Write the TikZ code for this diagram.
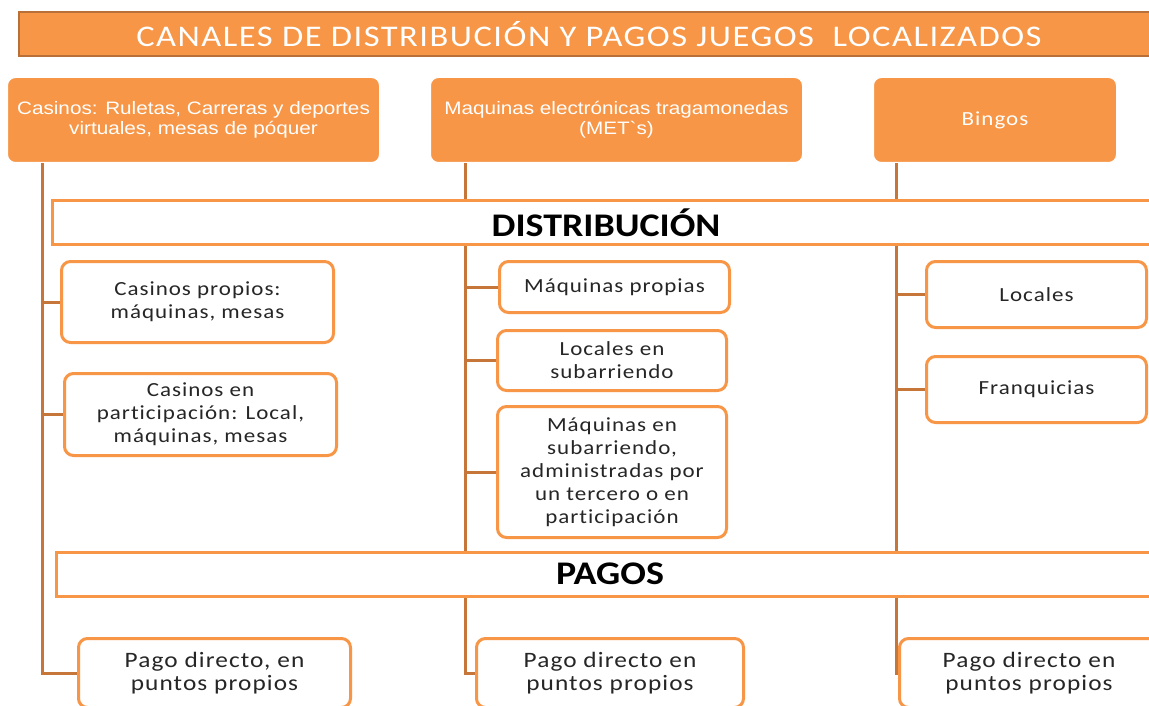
\documentclass[tikz,border=0pt]{standalone}
\usepackage{fontspec}
\setmainfont{Carlito}[FakeStretch=1.15]
\newfontfamily\titlefont{Carlito}[FakeStretch=1.15,LetterSpace=5]
\newfontfamily\boxfont{Carlito}[FakeStretch=1.15,LetterSpace=5,RawFeature={-liga}]
\newfontfamily\headfont{Liberation Sans}[FakeStretch=1.15]
\definecolor{accent}{RGB}{247,150,70}
\definecolor{accentdark}{RGB}{184,112,56}
\definecolor{linkcol}{RGB}{197,118,56}
\usetikzlibrary{positioning,calc,backgrounds}

\begin{document}
\begin{tikzpicture}[
            x=1pt, y=-1pt,
            title/.style={rectangle, draw=accentdark, line width=2pt, fill=accent, text=white, minimum width=1140, minimum height=44, inner sep=0pt, font=\titlefont\fontsize{30}{32}\selectfont},
            head/.style={rectangle, draw=white, line width=1pt, fill=accent, text=white, minimum height=85, inner sep=0pt, align=center, rounded corners=8pt, font=\headfont\fontsize{18}{20}\selectfont},
            bar/.style={rectangle, draw=accent, line width=3pt, fill=white, minimum width=1108, minimum height=44, inner sep=0pt, font=\bfseries\fontsize{33}{36}\selectfont},
            item/.style={rectangle, draw=accent, line width=3pt, fill=white, inner sep=0pt, align=center, rounded corners=9pt, text=black!85, font=\boxfont\fontsize{20}{23}\selectfont},
            pago/.style={item, minimum height=69, font=\boxfont\fontsize{22}{23}\selectfont},
            link/.style={draw=linkcol, line width=3pt}
        ]
            \useasboundingbox (0,0) rectangle (1149,706);
            \clip (0,0) rectangle (1149,706);

            % titulo
            \node[title] (titulo) at (589,34) {CANALES DE DISTRIBUCIÓN Y PAGOS JUEGOS\ \ LOCALIZADOS};

            % canales
            \node[head, minimum width=372] (casinos) at (193.5,120) {Casinos: Ruletas, Carreras y deportes\\virtuales, mesas de póquer};
            \node[head, minimum width=372] (met) at (616.5,120) {Maquinas electrónicas tragamonedas\\(MET`s)};
            \node[head, minimum width=243, font=\boxfont\fontsize{20}{23}\selectfont] (bingos) at (995,120) {Bingos};

            % franjas
            \node[bar] (distrib) at (606,222.5) {DISTRIBUCIÓN};
            \node[bar] (pagos) at (610,574) {PAGOS};

            % distribucion
            \node[item, minimum width=272, minimum height=81] (propios) at (197.5,302) {Casinos propios:\\máquinas, mesas};
            \node[item, minimum width=272, minimum height=82] (particip) at (200.5,414.5) {Casinos en\\participación: Local,\\máquinas, mesas};
            \node[item, minimum width=230, minimum height=51] (maqprop) at (614.5,287) {Máquinas propias};
            \node[item, minimum width=229, minimum height=60] (locsub) at (612,360.5) {Locales en\\subarriendo};
            \node[item, minimum width=229, minimum height=131] (maqsub) at (612,472) {Máquinas en\\subarriendo,\\administradas por\\un tercero o en\\participación};
            \node[item, minimum width=220, minimum height=66] (locales) at (1036.5,294.5) {Locales};
            \node[item, minimum width=220, minimum height=66] (franq) at (1036.5,389.5) {Franquicias};

            % pagos
            \node[pago, minimum width=272] (pagoA) at (214.5,673) {Pago directo, en\\puntos propios};
            \node[pago, minimum width=267] (pagoB) at (610,673) {Pago directo en\\puntos propios};
            \node[pago, minimum width=259] (pagoC) at (1029,673) {Pago directo en\\puntos propios};

            \begin{scope}[on background layer]
                \fill[white] (0,0) rectangle (1149,706);
                \coordinate (tA) at (42,163);
                \coordinate (tB) at (465,163);
                \coordinate (tC) at (896,163);
                \draw[link] (tA) |- (pagoA.west);
                \draw[link] (tB) |- (pagoB.west);
                \draw[link] (tC) |- (pagoC.west);
                \draw[link] (tA |- propios.west) -- (propios.west);
                \draw[link] (tA |- particip.west) -- (particip.west);
                \draw[link] (tB |- maqprop.west) -- (maqprop.west);
                \draw[link] (tB |- locsub.west) -- (locsub.west);
                \draw[link] (tB |- maqsub.west) -- (maqsub.west);
                \draw[link] (tC |- locales.west) -- (locales.west);
                \draw[link] (tC |- franq.west) -- (franq.west);
            \end{scope}
        \end{tikzpicture}
\end{document}
